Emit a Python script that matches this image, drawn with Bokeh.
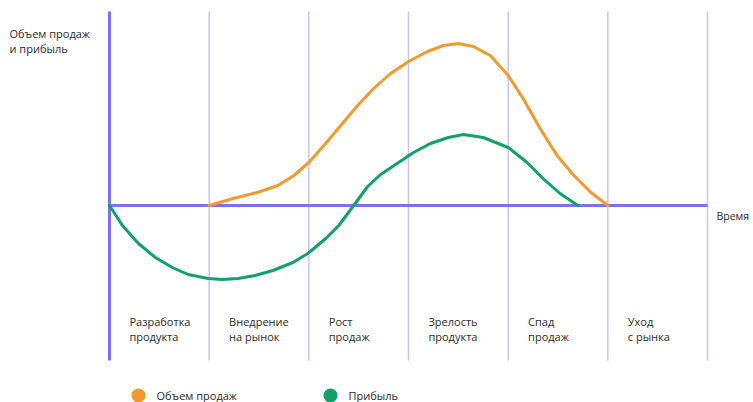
from bokeh.plotting import figure
from bokeh.embed import file_html
from bokeh.resources import INLINE
from bokeh.core.properties import value

# ---- data ----
stages_l1 = ["Разработка", "Внедрение", "Рост", "Зрелость", "Спад", "Уход"]
stages_l2 = ["продукта", "на рынок", "продаж", "продукта", "продаж", "с рынка"]
stage_starts = [0, 1, 2, 3, 4, 5]
stage_bounds = [1, 2, 3, 4, 5, 6]

sales_x = [1.0, 1.24, 1.48, 1.69, 1.85, 2.0, 2.15, 2.32, 2.49, 2.65, 2.82, 3.0,
           3.19, 3.35, 3.5, 3.65, 3.82, 4.0, 4.15, 4.32, 4.49, 4.66, 4.83, 5.0]
sales_y = [0, 7, 13, 20, 30, 43, 60, 80, 100, 117, 132, 144,
           154, 160, 162, 159, 150, 130, 107, 77, 50, 30, 13, 0]

profit_x = [0, 0.13, 0.29, 0.46, 0.63, 0.79, 0.99, 1.13, 1.29, 1.46, 1.64, 1.84,
            1.99, 2.17, 2.3, 2.45, 2.59, 2.72, 2.9, 3.05, 3.22, 3.4, 3.55, 3.75,
            4.0, 4.19, 4.35, 4.52, 4.7]
profit_y = [0, -20, -38, -52, -62, -69, -73, -74, -73, -70, -65, -57,
            -48, -33, -20, 0, 19, 31, 43, 53, 62, 68, 71, 68,
            58, 43, 27, 12, 0]

y_title = ["Объем продаж", "и прибыль"]
x_title = "Время"
legend_labels = ["Объем продаж", "Прибыль"]

ORANGE = "#F39A2E"
GREEN = "#12A06B"
AXIS = "#7D72EE"
GRID = "#C9C3F6"
TEXT = "#2b2b2b"
FONT = value("Open Sans")

W, H = 753, 402
px = 99.67  # pixels per stage
x0 = -109 / px
x1 = x0 + W / px
p = figure(width=W, height=H, x_range=(x0, x1), y_range=(205 - H, 205),
           output_backend="svg", toolbar_location=None, min_border=0)
p.axis.visible = False
p.grid.visible = False
p.outline_line_color = None
p.background_fill_color = "white"

top, bottom = 194, -155
# vertical stage lines
p.segment(x0=stage_bounds, y0=[bottom] * 6, x1=stage_bounds, y1=[top] * 6,
          line_color=GRID, line_width=1.5)
# axes
p.segment(x0=[0], y0=[bottom], x1=[0], y1=[top], line_color=AXIS, line_width=3)
p.segment(x0=[0], y0=[0], x1=[6], y1=[0], line_color=AXIS, line_width=3)

# curves
p.line(sales_x, sales_y, line_color=ORANGE, line_width=3, line_join="round", line_cap="round")
p.line(profit_x, profit_y, line_color=GREEN, line_width=3, line_join="round", line_cap="round")

# stage labels
lx = [s + 0.2 for s in stage_starts]
p.text(x=lx, y=[-116] * 6, text=stages_l1, text_font=FONT, text_font_size="11px",
       text_color=TEXT, text_baseline="middle")
p.text(x=lx, y=[-131] * 6, text=stages_l2, text_font=FONT, text_font_size="11px",
       text_color=TEXT, text_baseline="middle")

# axis titles
p.text(x=[(9 - 109) / px] * 2, y=[172, 157], text=y_title, text_font=FONT,
       text_font_size="11px", text_color=TEXT, text_baseline="middle")
p.text(x=[(716 - 109) / px], y=[-10], text=[x_title], text_font=FONT,
       text_font_size="10.5px", text_color=TEXT, text_baseline="middle")

# legend
ly = -190
p.scatter(x=[(138 - 109) / px, (330 - 109) / px], y=[ly, ly], size=14,
          color=[ORANGE, GREEN], line_color=None)
p.text(x=[(156 - 109) / px, (348 - 109) / px], y=[ly, ly], text=legend_labels,
       text_font=FONT, text_font_size="11px", text_color=TEXT, text_baseline="middle")

open("out.html", "w").write(file_html(p, INLINE))
